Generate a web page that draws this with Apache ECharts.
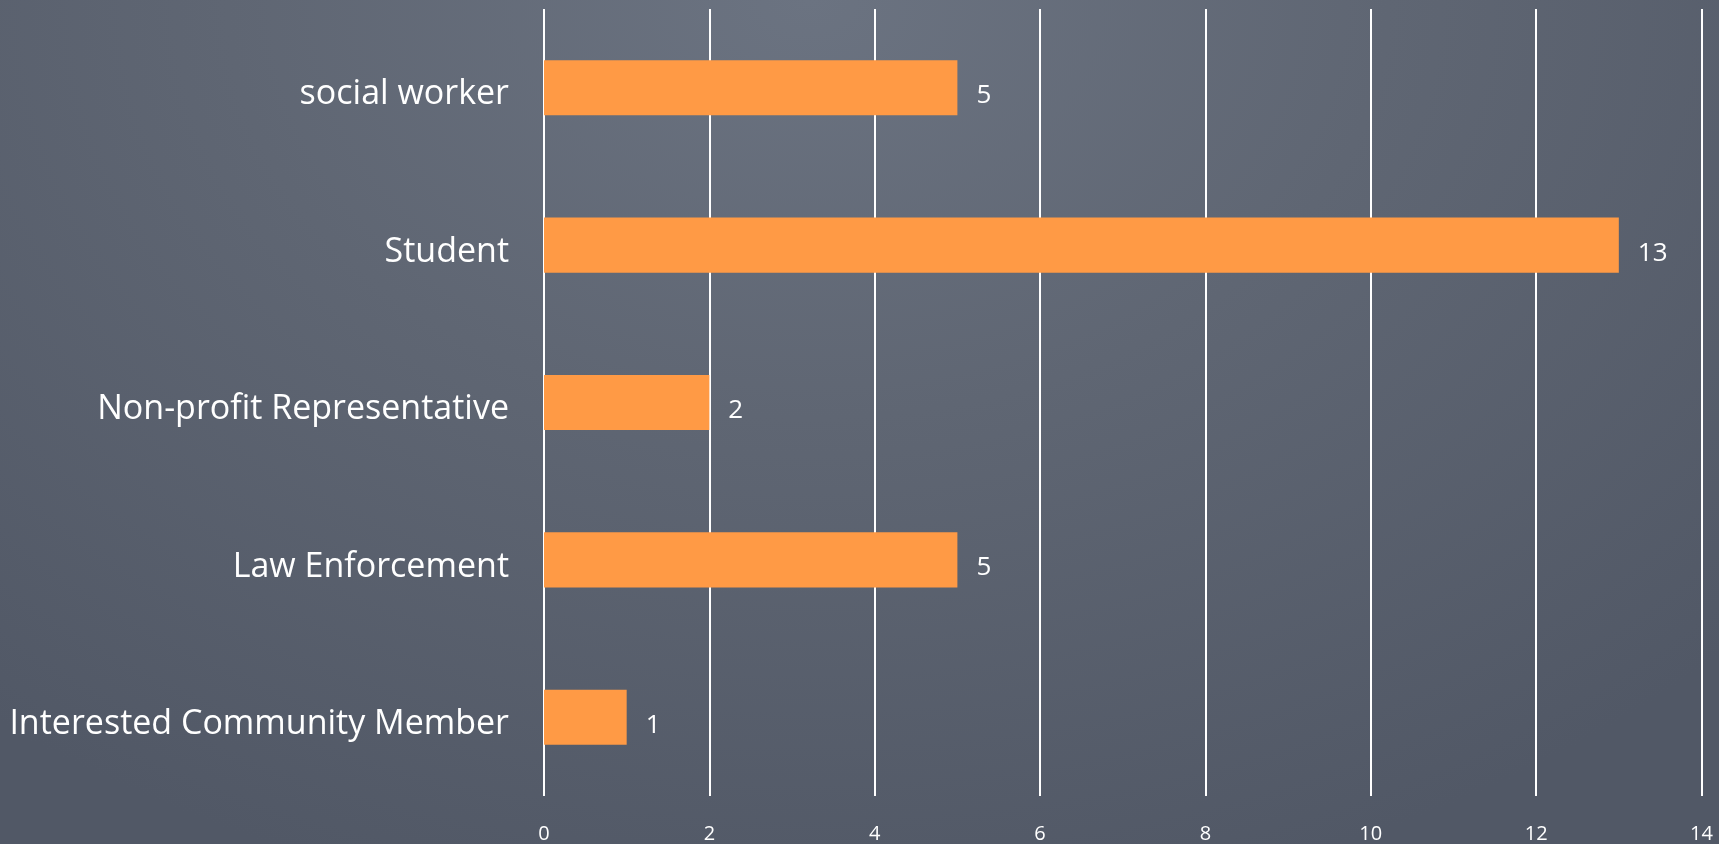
<!DOCTYPE html>
<html>
<head>
<meta charset="utf-8">
<script src="https://cdn.jsdelivr.net/npm/echarts@6/dist/echarts.min.js"></script>
<style>
html,body{margin:0;padding:0;width:1719px;height:844px;overflow:hidden;}
body{background:radial-gradient(ellipse 75% 110% at 47% 0%, #6b7381 0%, #5f6673 45%, #515866 100%);}
#chart{width:1719px;height:844px;}
</style>
</head>
<body>
<div id="chart"></div>
<script>
const categories = ['social worker', 'Student', 'Non-profit Representative', 'Law Enforcement', 'Interested Community Member'];
const values = [5, 13, 2, 5, 1];
const xMin = 0, xMax = 14, xInterval = 2;

const chart = echarts.init(document.getElementById('chart'));
chart.setOption({
  backgroundColor: 'transparent',
  animation: false,
  grid: { left: 544, right: 17.5, top: 9, bottom: 47, containLabel: false },
  xAxis: {
    type: 'value', min: xMin, max: xMax, interval: xInterval,
    axisLine: { show: false }, axisTick: { show: false },
    splitLine: { show: true, lineStyle: { color: '#ffffff', width: 2 } },
    axisLabel: { color: '#ffffff', fontSize: 20, fontFamily: 'Open Sans', margin: 28 }
  },
  yAxis: {
    type: 'category', data: categories, inverse: true,
    axisLine: { show: false }, axisTick: { show: false }, splitLine: { show: false },
    axisLabel: {
      margin: 35,
      formatter: function (v) { return '{c|' + v + '}'; },
      rich: { c: { color: '#ffffff', fontSize: 34, fontFamily: 'Open Sans', padding: [14, 0, 0, 0] } }
    }
  },
  series: [{
    type: 'bar', data: values, barWidth: '35%',
    itemStyle: { color: '#FF9A45' },
    label: { show: true, position: 'right', distance: 19, offset: [0, 8], color: '#ffffff', fontSize: 26, fontFamily: 'Open Sans' }
  }]
});
</script>
</body>
</html>
